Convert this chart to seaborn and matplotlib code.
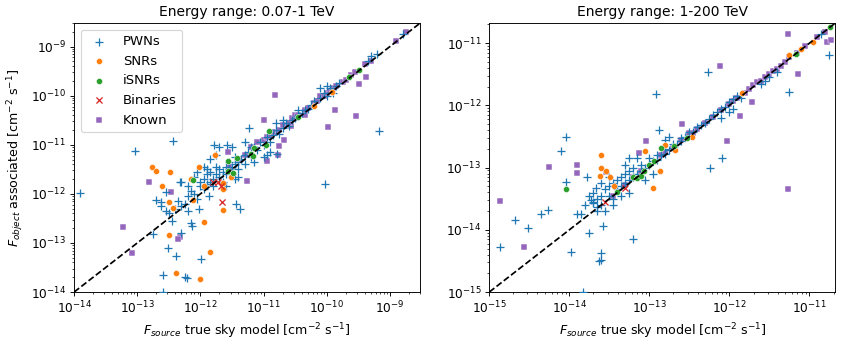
import matplotlib
matplotlib.use("Agg")
import matplotlib.pyplot as plt
import seaborn as sns
import numpy as np

# all values are log10 of the flux [cm^-2 s^-1]
# ---- panel 1: 0.07-1 TeV ----
pwn_lo_src = [-13.9, -13.03, -12.43, -12.75, -12.52, -12.38, -12.59, -12.59, -12.24, -12.22, -11.99,
              -12.02, -12.15, -12.14, -12.3, -12.62, -12.62, -12.71, -12.54, -10.03, -9.17, -11.23,
              -11.78, -11.44, -11.38, -11.86, -10.95, -10.79, -12.32,
              -12.35, -12.3, -12.25, -12.2, -12.15, -12.1, -12.05, -12.0, -12.0, -11.95, -11.95, -11.9,
              -11.9, -11.85, -11.85, -11.8, -11.8, -11.75, -11.75, -11.7, -11.7, -11.65, -11.65, -11.6,
              -11.6, -11.55, -11.55, -11.5, -11.5, -11.45, -11.45, -11.4, -11.4, -11.35, -11.3, -11.3,
              -11.25, -11.2, -11.15, -11.1, -11.05, -11.0, -10.95, -10.9, -10.85, -10.8, -10.75, -10.7,
              -10.65, -10.6, -10.55, -10.5, -10.45, -10.4, -10.35, -10.3, -10.25, -10.2, -10.1, -10.05,
              -10.0, -9.95, -9.9, -9.85, -9.35, -9.3, -9.2, -8.8,
              -12.5, -12.45, -12.4, -12.55, -12.3, -12.2, -12.1, -12.05, -11.95, -11.85, -11.7, -11.5,
              -11.3, -11.2, -11.15, -11.0, -10.9, -11.45, -11.6, -11.4, -10.8, -10.7, -10.45, -10.1,
              -10.0, -9.8, -11.75, -11.58, -11.9, -12.2]
pwn_lo_obj = [-11.99, -11.13, -10.93, -12.81, -13.1, -13.26, -13.65, -13.99, -13.7, -13.72, -13.32,
              -12.31, -12.6, -12.66, -12.8, -12.25, -12.16, -12.13, -11.96, -11.79, -10.71, -10.65,
              -11.01, -12.2, -12.3, -12.04, -11.2, -11.19, -11.76,
              -12.15, -12.25, -12.2, -12.05, -11.95, -12.0, -12.1, -11.85, -11.75, -11.9, -11.7, -11.8,
              -11.6, -11.75, -11.55, -11.7, -11.85, -11.6, -11.45, -11.65, -11.5, -11.55, -11.75, -11.45,
              -11.6, -11.5, -11.35, -11.45, -11.6, -11.4, -11.25, -11.35, -11.5, -11.3, -11.2, -11.4,
              -11.15, -11.25, -11.05, -11.1, -10.95, -11.0, -10.85, -10.95, -10.8, -10.7, -10.78, -10.65,
              -10.55, -10.62, -10.5, -10.45, -10.42, -10.35, -10.3, -10.28, -10.2, -10.1, -10.05, -9.95,
              -10.0, -9.85, -9.95, -9.8, -9.3, -9.2, -9.15, -8.75,
              -12.4, -12.55, -12.3, -12.35, -11.75, -11.85, -11.65, -11.55, -11.45, -11.3, -11.05, -11.05,
              -10.95, -11.05, -11.35, -11.25, -11.15, -11.7, -11.85, -11.65, -10.55, -10.5, -10.3, -9.85,
              -9.8, -9.75, -11.2, -11.0, -11.5, -12.35]

snr_lo_src = [-12.76, -12.71, -12.48, -12.61, -12.49, -12.43, -12.5, -12.39, -12.02, -11.94, -12.0,
              -11.85, -11.77, -12.15, -11.51, -11.95, -12.12, -11.65, -11.64, -11.65, -9.91, -10.2]
snr_lo_obj = [-11.45, -11.53, -11.55, -11.83, -12.16, -12.29, -12.83, -13.62, -11.45, -12.58, -13.73,
              -13.18, -11.2, -11.7, -11.66, -11.85, -12.12, -12.32, -11.78, -11.91, -9.92, -10.22]

isnr_lo_src = [-12.11, -11.56, -11.57, -11.48, -11.42, -11.2, -11.17, -11.15, -10.96, -10.92, -10.45,
               -9.65, -9.49]
isnr_lo_obj = [-11.72, -11.34, -11.54, -11.58, -11.26, -11.19, -11.22, -11.07, -11.0, -10.71, -10.44,
               -9.62, -9.47]

bin_lo_src = [-11.66, -11.8, -11.72, -11.68]
bin_lo_obj = [-12.16, -11.76, -11.75, -11.85]

known_lo_src = [-12.82, -12.47, -13.23, -13.08, -12.32, -12.36, -10.82, -11.0, -11.26, -10.95, -10.78,
                -11.57, -10.34, -9.87, -9.98, -9.54, -9.49, -9.38, -10.57, -10.68, -10.75, -8.91, -8.74,
                -11.2, -11.1, -11.0, -10.95, -10.9, -10.85, -10.75, -10.7, -10.6, -10.55, -10.5, -10.45,
                -10.35, -10.3, -10.2, -10.15, -10.1, -10.05, -10.0, -9.95, -9.9, -9.85, -9.75, -9.7,
                -9.62, -9.55, -9.4, -9.3, -11.55, -11.4, -11.3]
known_lo_obj = [-11.76, -11.97, -12.68, -13.21, -12.88, -12.92, -9.98, -10.49, -11.74, -11.34, -11.21,
                -11.15, -10.39, -10.3, -10.63, -10.42, -9.77, -9.63, -10.62, -10.9, -11.02, -8.89, -8.7,
                -11.05, -10.95, -10.9, -10.85, -10.8, -10.75, -10.7, -10.6, -10.55, -10.45, -10.4, -10.4,
                -10.3, -10.25, -10.15, -10.1, -10.0, -10.0, -9.95, -9.9, -9.85, -9.8, -9.72, -9.68,
                -9.58, -9.52, -9.35, -9.3, -11.45, -11.3, -11.2]

# ---- panel 2: 1-200 TeV ----
pwn_hi_src = [-14.87, -14.68, -14.52, -14.35, -14.27, -14.11, -14.04, -13.98, -14.04, -13.83, -13.76,
              -13.61, -13.63, -13.61, -13.58, -13.78, -13.67, -13.73, -13.71, -13.65, -13.21, -12.92,
              -12.88, -12.75, -12.27, -12.24, -12.09, -11.25, -10.75, -10.86, -11.4,
              -13.8, -13.75, -13.7, -13.7, -13.65, -13.6, -13.6, -13.55, -13.5, -13.5, -13.45, -13.45,
              -13.4, -13.4, -13.35, -13.35, -13.3, -13.3, -13.25, -13.25, -13.2, -13.2, -13.15, -13.1,
              -13.1, -13.05, -13.0, -13.0, -12.95, -12.9, -12.9, -12.85, -12.8, -12.8, -12.75, -12.7,
              -12.7, -12.65, -12.6, -12.6, -12.55, -12.5, -12.5, -12.45, -12.4, -12.35, -12.3, -12.25,
              -12.2, -12.15, -12.1, -12.05, -12.0, -11.95, -11.9, -11.85, -11.6, -11.55, -11.5,
              -13.65, -13.55, -13.45, -13.35, -13.25, -13.05, -12.95, -13.6, -13.5, -13.3, -13.15,
              -13.25, -12.8, -12.1, -12.0, -11.95, -13.85, -13.9]
pwn_hi_obj = [-14.27, -13.84, -13.97, -13.75, -13.68, -12.74, -13.23, -14.36, -12.51, -15.0, -14.05,
              -14.37, -14.5, -14.48, -13.94, -13.15, -13.33, -13.52, -13.57, -13.63, -14.15, -11.82,
              -12.4, -12.5, -11.46, -13.0, -12.84, -11.79, -11.19, -10.85, -11.47,
              -13.6, -13.45, -13.55, -13.4, -13.5, -13.45, -13.6, -13.35, -13.45, -13.3, -13.5, -13.25,
              -13.35, -13.2, -13.3, -13.15, -13.25, -13.1, -13.2, -13.05, -13.15, -13.0, -13.1, -13.05,
              -12.95, -13.0, -12.95, -12.85, -12.9, -12.88, -12.8, -12.8, -12.78, -12.7, -12.72, -12.68,
              -12.62, -12.62, -12.58, -12.52, -12.5, -12.48, -12.42, -12.42, -12.35, -12.32, -12.28,
              -12.22, -12.15, -12.1, -12.05, -12.02, -11.95, -11.9, -11.85, -11.88, -11.65, -11.6, -11.55,
              -13.7, -13.7, -13.6, -13.45, -13.4, -13.2, -13.1, -13.25, -13.15, -12.95, -12.85,
              -12.85, -12.55, -12.2, -12.1, -12.05, -13.75, -13.75]

snr_hi_src = [-13.61, -13.6, -13.62, -13.49, -13.54, -13.06, -12.95, -12.87, -13.44, -12.68, -12.47,
              -11.84, -11.25, -11.1, -10.96, -12.8]
snr_hi_obj = [-12.8, -13.0, -13.13, -13.15, -13.05, -12.74, -13.32, -13.06, -13.3, -12.72, -12.51,
              -11.8, -11.19, -11.09, -10.98, -12.64]

isnr_hi_src = [-14.04, -13.4, -13.2, -13.15, -13.1, -13.07, -13.01, -12.94, -12.85, -12.69, -12.53,
               -11.17, -10.74]
isnr_hi_obj = [-13.34, -13.39, -13.15, -13.16, -13.14, -13.05, -12.95, -12.9, -12.69, -12.66, -12.52,
               -11.17, -10.74]

bin_hi_src = [-13.56, -13.3]
bin_hi_obj = [-13.55, -13.33]

known_hi_src = [-14.87, -14.56, -14.25, -13.91, -13.9, -13.54, -13.04, -13.13, -12.59, -12.12, -12.03,
                -11.87, -11.72, -11.27, -11.27, -11.14, -10.78, -10.73,
                -12.6, -12.5, -12.45, -12.4, -12.3, -12.2, -12.1, -12.0, -11.95, -11.9, -11.8, -11.75,
                -11.7, -11.65, -11.6, -11.55, -11.5, -11.45, -11.4, -11.35, -11.3, -11.25, -11.15,
                -11.05, -10.9, -10.8, -13.45, -13.3, -13.2, -13.1, -12.85, -12.8, -12.7]
known_hi_obj = [-13.54, -14.28, -12.99, -12.95, -13.09, -13.07, -12.58, -12.77, -12.3, -11.37, -12.57,
                -12.17, -11.95, -13.35, -10.85, -11.5, -10.98, -10.95,
                -12.55, -12.45, -12.45, -12.38, -12.28, -12.18, -12.08, -11.98, -11.93, -11.88, -11.8,
                -11.73, -11.68, -11.63, -11.6, -11.55, -11.5, -11.45, -11.42, -11.36, -11.3, -11.22,
                -11.15, -11.05, -10.9, -10.82, -13.45, -13.28, -13.15, -13.05, -12.8, -12.75, -12.68]

panels = [
    dict(title="Energy range: 0.07-1 TeV", lim=(1e-14, 3e-9),
         pwn=(pwn_lo_src, pwn_lo_obj), snr=(snr_lo_src, snr_lo_obj), isnr=(isnr_lo_src, isnr_lo_obj),
         bin=(bin_lo_src, bin_lo_obj), known=(known_lo_src, known_lo_obj)),
    dict(title="Energy range: 1-200 TeV", lim=(1e-15, 2.1e-11),
         pwn=(pwn_hi_src, pwn_hi_obj), snr=(snr_hi_src, snr_hi_obj), isnr=(isnr_hi_src, isnr_hi_obj),
         bin=(bin_hi_src, bin_hi_obj), known=(known_hi_src, known_hi_obj)),
]

styles = [
    ("pwn", "PWNs", "C0", "+", 40, 3),
    ("snr", "SNRs", "C1", "o", 28, 4),
    ("isnr", "iSNRs", "C2", "o", 28, 5),
    ("bin", "Binaries", "C3", "x", 28, 6),
    ("known", "Known", "C4", "s", 28, 2),
]

# the original was drawn larger and scaled down, so use a lower dpi
fig, axes = plt.subplots(1, 2, figsize=(842 / 83, 340 / 83), dpi=83)
fig.subplots_adjust(left=0.088, right=0.992, bottom=0.141, top=0.932, wspace=0.2)

for ax, p in zip(axes, panels):
    for key, label, col, mk, size, z in styles:
        xs = 10 ** np.array(p[key][0])
        ys = 10 ** np.array(p[key][1])
        if mk in ("+", "x"):
            sns.scatterplot(x=xs, y=ys, ax=ax, marker=mk, color=col, s=size,
                            linewidth=1.1, label=label, zorder=z)
        else:
            sns.scatterplot(x=xs, y=ys, ax=ax, marker=mk, color=col, s=size,
                            label=label, zorder=z)
    lo, hi = p["lim"]
    ax.plot([lo, hi], [lo, hi], color="black", linestyle="--", zorder=10)
    ax.set_xscale("log")
    ax.set_yscale("log")
    ax.set_xlim(lo, hi)
    ax.set_ylim(lo, hi)
    ax.tick_params(labelsize=10.5)
    ax.set_title(p["title"], fontsize=12)
    ax.set_xlabel(r"$F_{source}$ true sky model [cm$^{-2}$ s$^{-1}$]", fontsize=11)

axes[0].set_ylabel(r"$F_{object}$ associated [cm$^{-2}$ s$^{-1}$]", fontsize=11)
axes[0].legend(loc="upper left", fontsize=11.5)
axes[1].get_legend().remove()

plt.savefig("out.png", dpi=83)
